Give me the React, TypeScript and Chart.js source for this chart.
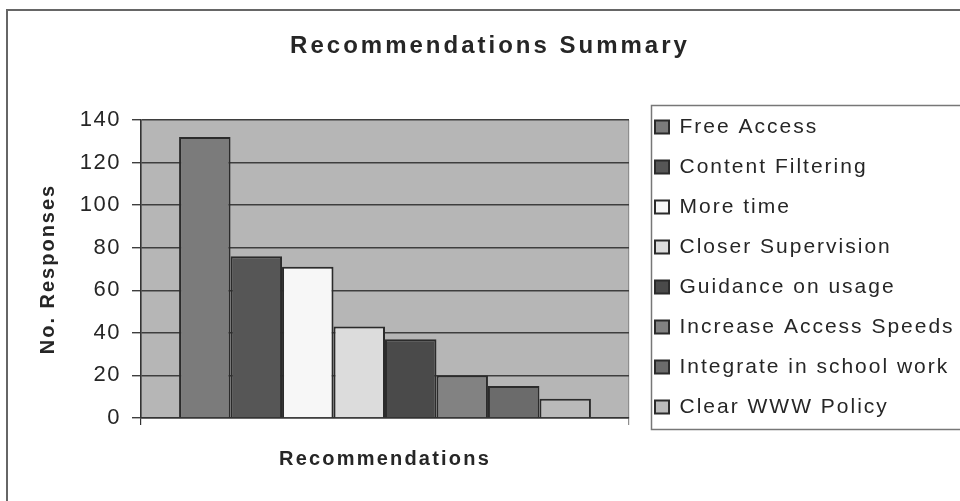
import { useEffect, useRef } from 'react';
import { Chart, registerables } from 'chart.js';

Chart.register(...registerables);

// ---- data ----
const categories = [
  'Free Access',
  'Content Filtering',
  'More time',
  'Closer Supervision',
  'Guidance on usage',
  'Increase Access Speeds',
  'Integrate in school work',
  'Clear WWW Policy',
];
const responses = [132, 76, 71, 43, 37, 20, 15, 9];
const fills = ['#7b7b7b', '#565656', '#f7f7f7', '#dcdcdc', '#4a4a4a', '#828282', '#6b6b6b', '#bababa'];
const yTicks = [0, 20, 40, 60, 80, 100, 120, 140];
const chartTitle = 'Recommendations Summary';
const xTitle = 'Recommendations';
const yTitle = 'No. Responses';

// ---- look ----
const FONT = 'Arial, "Liberation Sans", Helvetica, sans-serif';
const INK = '#262626';
const PLOT_BG = '#b6b6b6';
const CANVAS_W = 980;
const CANVAS_H = 534;
const LEGEND_W = 344;
const Y_AXIS_W = 141;
const X_AXIS_H = 116;

// Wraps a text-drawing method so it renders with extra letter spacing.
function spacedText(target: any, method: string, spacing: number, after?: (t: any) => void) {
  if (!target) return;
  const original = target[method];
  if (typeof original !== 'function' || original.__spaced) return;
  const wrapped = function (this: any, ...args: any[]) {
    const ctx = this.ctx;
    ctx.save();
    ctx.letterSpacing = spacing + 'px';
    let result;
    try {
      result = original.apply(this, args);
    } finally {
      ctx.restore();
    }
    if (after) after(this);
    return result;
  };
  (wrapped as any).__spaced = true;
  target[method] = wrapped;
}

const textSpacing = {
  id: 'textSpacing',
  beforeLayout(chart: any) {
    spacedText(chart.titleBlock, 'draw', 3);
    spacedText(chart.legend, 'fit', 2, (l) => { l.width = LEGEND_W; });
    spacedText(chart.legend, 'draw', 2);
    spacedText(chart.scales.y, 'drawLabels', 1.5);
    spacedText(chart.scales.y, 'drawTitle', 2);
    spacedText(chart.scales.x, 'drawTitle', 2.2);
  },
};

const sheetFrame = {
  id: 'sheetFrame',
  beforeDraw(chart: any) {
    const { ctx, chartArea: a, width, height } = chart;
    ctx.save();
    ctx.fillStyle = '#ffffff';
    ctx.fillRect(0, 0, width, height);
    ctx.fillStyle = PLOT_BG;
    ctx.fillRect(a.left, a.top, a.right - a.left, a.bottom - a.top);
    ctx.restore();
  },
  afterDraw(chart: any) {
    const { ctx, width, height, legend } = chart;
    ctx.save();
    // outer chart border
    ctx.strokeStyle = '#666666';
    ctx.lineWidth = 2;
    ctx.beginPath();
    ctx.moveTo(7, height + 4);
    ctx.lineTo(7, 10);
    ctx.lineTo(width + 4, 10);
    ctx.stroke();
    // legend border
    const boxes = legend && legend.legendHitBoxes;
    if (boxes && boxes.length) {
      const first = boxes[0];
      const last = boxes[boxes.length - 1];
      const top = Math.round(first.top - 12) + 0.5;
      const bottom = Math.round(last.top + last.height + 11) + 0.5;
      const left = Math.round(legend.left + 15) + 0.5;
      ctx.strokeStyle = '#777777';
      ctx.lineWidth = 1.5;
      ctx.beginPath();
      ctx.moveTo(width + 4, top);
      ctx.lineTo(left, top);
      ctx.lineTo(left, bottom);
      ctx.lineTo(width + 4, bottom);
      ctx.stroke();
    }
    ctx.restore();
  },
};

export default function App() {
  const canvasRef = useRef<HTMLCanvasElement | null>(null);

  useEffect(() => {
    const canvas = canvasRef.current;
    if (!canvas) return;
    const chart = new Chart(canvas, {
      type: 'bar',
      data: {
        labels: [''],
        datasets: categories.map((label, i) => ({
          label,
          data: [responses[i]],
          backgroundColor: fills[i],
          borderColor: '#2b2b2b',
          borderWidth: 2,
          barPercentage: 1,
          categoryPercentage: 0.844,
          xAxisID: 'x',
          yAxisID: 'y',
        })),
      },
      options: {
        responsive: false,
        animation: false,
        devicePixelRatio: 1,
        events: [],
        layout: { padding: 0 },
        scales: {
          x: {
            type: 'category',
            offset: true,
            grid: {
              display: true,
              offset: true,
              drawOnChartArea: true,
              drawTicks: true,
              tickLength: 7,
              lineWidth: 1.2,
              color: (c: any) => (c.index === 0 ? '#333333' : '#8e8e8e'),
            },
            border: { display: true, color: '#333333', width: 1.5 },
            ticks: { display: false },
            title: {
              display: true,
              text: xTitle,
              color: INK,
              font: { family: FONT, size: 20, weight: 'bold' },
              padding: { top: 0, bottom: 63 },
            },
            afterFit: (s: any) => { s.height = X_AXIS_H; },
          },
          y: {
            type: 'linear',
            position: 'left',
            min: 0,
            max: 140,
            afterBuildTicks: (s: any) => { s.ticks = yTicks.map((value) => ({ value })); },
            ticks: { color: INK, font: { family: FONT, size: 22 }, padding: 11 },
            grid: { color: '#3e3e3e', lineWidth: 1.4, tickLength: 9, drawTicks: true },
            border: { display: true, color: '#333333', width: 1.5 },
            title: {
              display: true,
              text: yTitle,
              color: INK,
              font: { family: FONT, size: 20, weight: 'bold' },
              padding: { top: 36.5, bottom: 0 },
            },
            afterFit: (s: any) => { s.width = Y_AXIS_W; },
          },
          legendGap: {
            type: 'linear',
            position: 'right',
            display: true,
            grid: { display: false },
            border: { display: false },
            ticks: { display: false },
            afterFit: (s: any) => { s.width = 7; },
          },
        },
        plugins: {
          title: {
            display: true,
            text: chartTitle,
            color: INK,
            font: { family: FONT, size: 24, weight: 'bold' },
            padding: { top: 31.8, bottom: 59.4 },
          },
          legend: {
            position: 'right',
            align: 'center',
            labels: {
              boxWidth: 14,
              boxHeight: 13,
              padding: 19,
              color: INK,
              font: { family: FONT, size: 21 },
            },
          },
          tooltip: { enabled: false },
        },
      } as any,
      plugins: [textSpacing, sheetFrame],
    });
    return () => chart.destroy();
  }, []);

  return (
    <div style={{ position: 'absolute', left: 0, top: 0, width: 960, height: 501, overflow: 'hidden', background: '#ffffff' }}>
      <canvas ref={canvasRef} width={CANVAS_W} height={CANVAS_H} style={{ display: 'block' }} />
    </div>
  );
}
